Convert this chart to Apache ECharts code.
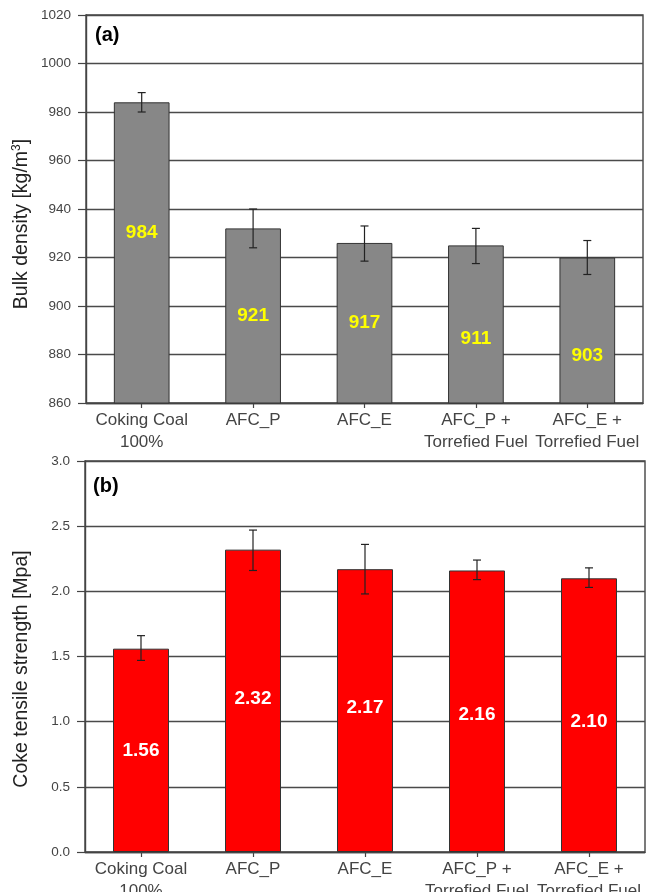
<!DOCTYPE html>
<html>
<head>
<meta charset="utf-8">
<script src="https://cdn.jsdelivr.net/npm/echarts@6/dist/echarts.min.js"></script>
<style>
html,body{margin:0;padding:0;background:#fff;}
#chart{width:663px;height:892px;}
</style>
</head>
<body>
<div id="chart"></div>
<script>
// ---- data ----
const categories = ['Coking Coal\n100%', 'AFC_P', 'AFC_E', 'AFC_P +\nTorrefied Fuel', 'AFC_E +\nTorrefied Fuel'];

const densityValues = [984, 932, 926, 925, 920];
const densityLow    = [980, 924, 918.5, 917.5, 913];
const densityHigh   = [988, 940, 933, 932, 927];
const densityLabels = ['984', '921', '917', '911', '903'];
const densityTicks  = ['860', '880', '900', '920', '940', '960', '980', '1000', '1020'];

const strengthValues = [1.56, 2.32, 2.17, 2.16, 2.10];
const strengthLow    = [1.47, 2.16, 1.98, 2.09, 2.03];
const strengthHigh   = [1.66, 2.47, 2.36, 2.24, 2.18];
const strengthLabels = ['1.56', '2.32', '2.17', '2.16', '2.10'];
const strengthTicks  = ['0.0', '0.5', '1.0', '1.5', '2.0', '2.5', '3.0'];

// ---- styling helpers ----
const densityLabelOffsets = [[0,-20],[0,0],[0,0],[0,14],[0,25]];
const strengthLabelOffsets = [[0,0],[0,-2],[0,-3],[0,4],[0,7]];

const chart = echarts.init(document.getElementById('chart'));

function errData(low, high){
  return low.map((l,i)=>[i, l, high[i]]);
}
function errRender(params, api){
  const x = api.value(0);
  const lo = api.coord([x, api.value(1)]);
  const hi = api.coord([x, api.value(2)]);
  const hw = 4;
  const st = {stroke:'#222', lineWidth:1.2};
  return {type:'group', children:[
    {type:'line', shape:{x1:lo[0],y1:lo[1],x2:hi[0],y2:hi[1]}, style:st},
    {type:'line', shape:{x1:hi[0]-hw,y1:hi[1],x2:hi[0]+hw,y2:hi[1]}, style:st},
    {type:'line', shape:{x1:lo[0]-hw,y1:lo[1],x2:lo[0]+hw,y2:lo[1]}, style:st}
  ]};
}

const FONT = 'Liberation Sans, Arial, sans-serif';
const xLabelStyle = {color:'#444', fontSize:17, fontFamily:FONT, lineHeight:22, margin:6, interval:0};
const yLabelStyle = {color:'#444', fontSize:13.5, fontFamily:FONT, margin:15};
const splitStyle = {show:true, lineStyle:{color:'#4a4a4a', width:1.4}};
const axisLineStyle = {show:true, lineStyle:{color:'#444', width:1.4}};

function xAxis(gridIndex){
  return {
    type:'category', gridIndex, data:categories,
    boundaryGap:true,
    axisLine:axisLineStyle,
    axisTick:{show:true, alignWithLabel:true, length:5, lineStyle:{color:'#444', width:1.2}},
    axisLabel:xLabelStyle,
    splitLine:{show:false}
  };
}

function yTitle(x, y, parts){
  return {
    type:'text', x:x, y:y, rotation:Math.PI/2,
    style:{
      text:parts, align:'center', verticalAlign:'middle',
      rich:{
        a:{fontSize:19.5, fontFamily:FONT, fill:'#222'},
        s:{fontSize:12, fontFamily:FONT, fill:'#222', padding:[0,0,10,0]}
      }
    }
  };
}

const option = {
  backgroundColor:'#fff',
  animation:false,
  grid:[
    {left:86, right:20, top:15, height:388, show:true, borderColor:'#444', borderWidth:1.4, backgroundColor:'transparent', outerBoundsMode:'none', containLabel:false},
    {left:85, right:18, top:461, height:391, show:true, borderColor:'#444', borderWidth:1.4, backgroundColor:'transparent', outerBoundsMode:'none', containLabel:false}
  ],
  xAxis:[xAxis(0), xAxis(1)],
  yAxis:[
    {
      type:'value', gridIndex:0, min:860, max:1020, interval:20,
      axisLine:axisLineStyle,
      axisTick:{show:true, length:8, lineStyle:{color:'#444', width:1.2}},
      axisLabel:Object.assign({}, yLabelStyle, {formatter:(v)=>densityTicks[Math.round((v-860)/20)]}),
      splitLine:splitStyle
    },
    {
      type:'value', gridIndex:1, min:0, max:3, interval:0.5,
      axisLine:axisLineStyle,
      axisTick:{show:true, length:8, lineStyle:{color:'#444', width:1.2}},
      axisLabel:Object.assign({}, yLabelStyle, {formatter:(v)=>strengthTicks[Math.round(v/0.5)]}),
      splitLine:splitStyle
    }
  ],
  graphic:[
    {type:'text', left:95, top:25, style:{text:'(a)', font:'bold 20px "Liberation Sans", Arial, sans-serif', fill:'#000'}},
    {type:'text', left:93, top:476, style:{text:'(b)', font:'bold 20px "Liberation Sans", Arial, sans-serif', fill:'#000'}},
    yTitle(22, 224, '{a|Bulk density [kg/m}{s|3}{a|]}'),
    yTitle(22, 669, '{a|Coke tensile strength [Mpa]}')
  ],
  series:[
    {
      type:'bar', xAxisIndex:0, yAxisIndex:0, barWidth:'50%',
      data:densityValues.map((v,i)=>({value:v, label:{offset:densityLabelOffsets[i]}})),
      itemStyle:{color:'#878787', borderColor:'#333', borderWidth:1},
      label:{show:true, position:'inside', formatter:(p)=>densityLabels[p.dataIndex],
        color:'#ffff00', fontSize:19, fontWeight:'bold', fontFamily:FONT},
      z:2
    },
    {
      type:'custom', xAxisIndex:0, yAxisIndex:0, renderItem:errRender,
      data:errData(densityLow, densityHigh), z:5
    },
    {
      type:'bar', xAxisIndex:1, yAxisIndex:1, barWidth:'50%',
      data:strengthValues.map((v,i)=>({value:v, label:{offset:strengthLabelOffsets[i]}})),
      itemStyle:{color:'#ff0000', borderColor:'#333', borderWidth:1},
      label:{show:true, position:'inside', formatter:(p)=>strengthLabels[p.dataIndex],
        color:'#ffffff', fontSize:19, fontWeight:'bold', fontFamily:FONT},
      z:2
    },
    {
      type:'custom', xAxisIndex:1, yAxisIndex:1, renderItem:errRender,
      data:errData(strengthLow, strengthHigh), z:5
    }
  ]
};
chart.setOption(option);
</script>
</body>
</html>
